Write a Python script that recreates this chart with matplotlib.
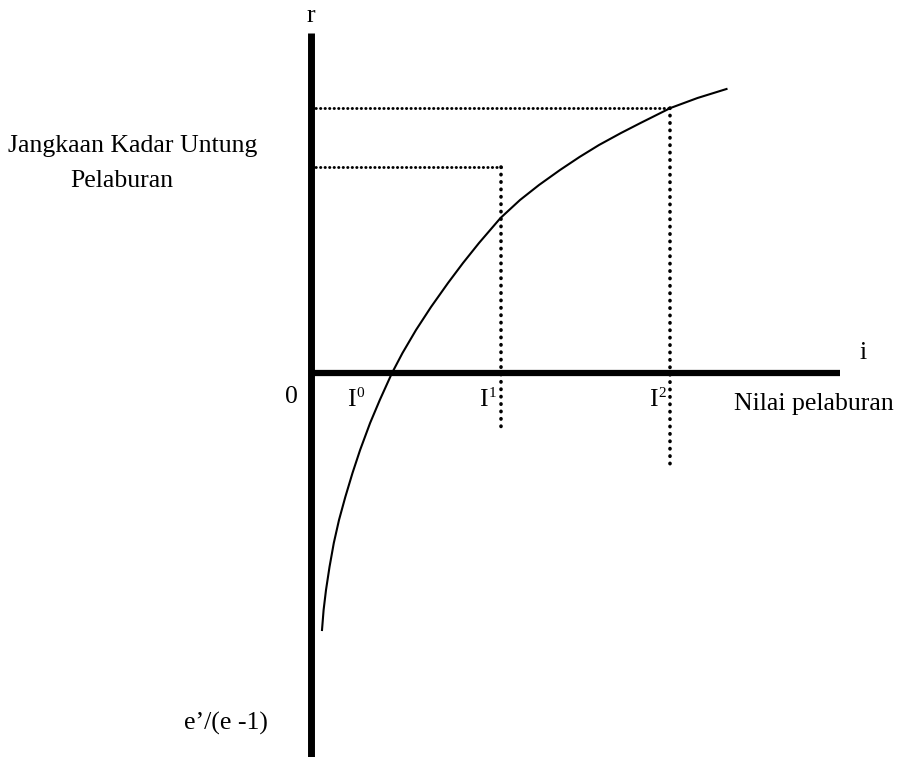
import matplotlib
matplotlib.use("Agg")
import matplotlib.pyplot as plt

# marginal efficiency of investment curve (i on x, r on y)
curve_i = [11, 12.6, 15, 18.5, 22.8, 28, 34.3, 41.5, 49.1, 59.1, 68.8, 81, 91.5,
           105, 120, 137, 152, 168, 189.5, 209, 228, 249, 268.5, 288, 310, 329.5,
           359.5, 386.5, 415.5]
curve_r = [-257, -237, -217, -194, -170, -147, -124, -100, -77, -50, -27, 0, 20,
           43, 66, 90, 110, 130, 155, 173, 188, 203, 216, 228, 240, 250, 265, 275, 284]

# investment levels with their dotted guide lines
levels = ["0", "1", "2"]
level_i = [40, 172, 342]
guide_i = [190, 359]
guide_r = [206, 265]
guide_bottom = [-55, -93]

# axis extents
r_top, r_bottom = 340, -384
i_end = 529

serif = ["Liberation Serif", "DejaVu Serif"]

fig = plt.figure(figsize=(9.02, 7.57), dpi=100)
ax = fig.add_axes([0, 0, 1, 1])
ax.set_xlim(-311, 591)
ax.set_ylim(-384, 373)
ax.axis("off")

# axes
ax.plot([0, 0], [r_bottom, r_top], color="black", lw=5, solid_capstyle="butt")
ax.plot([0, i_end], [0, 0], color="black", lw=4.5, solid_capstyle="butt")

# curve
ax.plot(curve_i, curve_r, color="black", lw=1.5, solid_joinstyle="round")

# dotted guides
for gi, gr, gb in zip(guide_i, guide_r, guide_bottom):
    ax.plot([0, gi], [gr, gr], color="black", lw=2.1, linestyle=(0, (0.1, 1.45)),
            dash_capstyle="round")
    ax.plot([gi, gi], [gr, gb], color="black", lw=2.6, linestyle=(0, (0.1, 1.95)),
            dash_capstyle="round")

# labels
fs = 18.5
ax.text(0, 351, "r", fontsize=fs, family=serif, ha="center", va="baseline")
ax.text(552, 14, "i", fontsize=fs, family=serif, ha="center", va="baseline")
ax.text(-20, -30, "0", fontsize=fs, family=serif, ha="center", va="baseline")
for lab, li in zip(levels, level_i):
    ax.text(li, -33, "I", fontsize=fs, family=serif, ha="center", va="baseline")
    ax.text(li + 9, -24, lab, fontsize=11, family=serif, ha="center", va="baseline")
ax.text(503, -37, "Nilai pelaburan", fontsize=fs, family=serif, ha="center", va="baseline")
ax.text(-178, 221, "Jangkaan Kadar Untung", fontsize=fs, family=serif, ha="center", va="baseline")
ax.text(-189, 186, "Pelaburan", fontsize=fs, family=serif, ha="center", va="baseline")
ax.text(-85, -357, "e\u2019/(e -1)", fontsize=fs, family=serif, ha="center", va="baseline")

fig.savefig("out.png", dpi=100)
